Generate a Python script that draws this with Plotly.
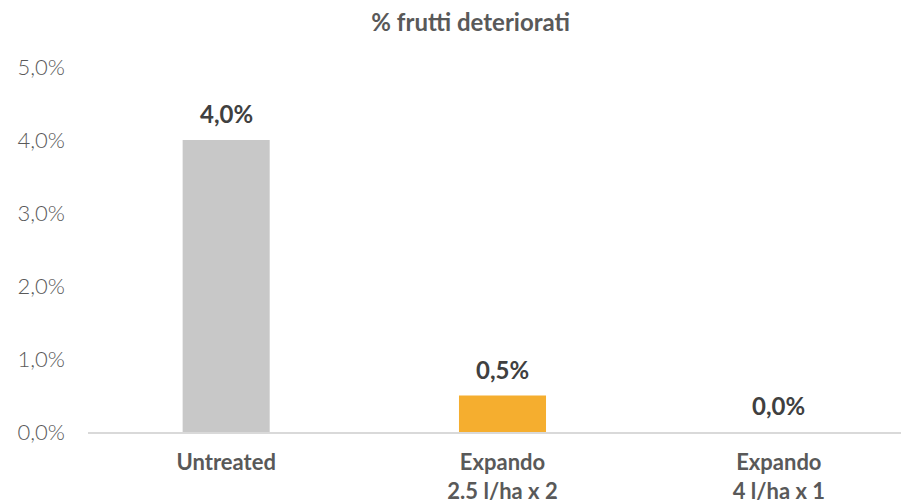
import plotly.graph_objects as go

categories = ["Untreated", "Expando<br>2.5 l/ha x 2", "Expando<br>4 l/ha x 1"]
values = [0.04, 0.005, 0.0]
labels = ["4,0%", "0,5%", "0,0%"]
colors = ["#c8c8c8", "#f5ae2f", "#f5ae2f"]
tick_vals = [0, 0.01, 0.02, 0.03, 0.04, 0.05]

fig = go.Figure(go.Bar(
    x=categories, y=values,
    marker=dict(color=colors, line=dict(width=0)),
    hoverinfo="x+y",
))

for c, v, t in zip(categories, values, labels):
    fig.add_annotation(
        x=c, y=v, text="<b>" + t + "</b>", showarrow=False,
        yanchor="bottom", yshift=10,
        font=dict(family="Lato", size=24, color="#404040"),
    )

fig.update_layout(
    width=909, height=504,
    separators=",.",
    margin=dict(l=80, r=0, t=59, b=80),
    plot_bgcolor="white", paper_bgcolor="white",
    bargap=0.685,
    showlegend=False,
    title=dict(text="<b>% frutti deteriorati</b>", x=0.509, xanchor="center",
               y=0.972, yanchor="middle", yref="container",
               font=dict(family="Lato", size=24, color="#595959")),
    font=dict(family="Lato"),
)
fig.update_xaxes(
    showline=True, linecolor="#d9d9d9", linewidth=2,
    tickfont=dict(family="Lato", size=22, color="#595959", weight="bold"),
    ticks="", showgrid=False, ticklabelstandoff=10,
)
fig.update_yaxes(
    range=[0, 0.05], tickvals=tick_vals, tickformat=".1%",
    showgrid=False, zeroline=False, showline=False,
    tickfont=dict(family="Lato", size=22, color="#595959", weight=300),
    ticks="", ticklabelstandoff=22,
)

fig.write_html("out.html")
